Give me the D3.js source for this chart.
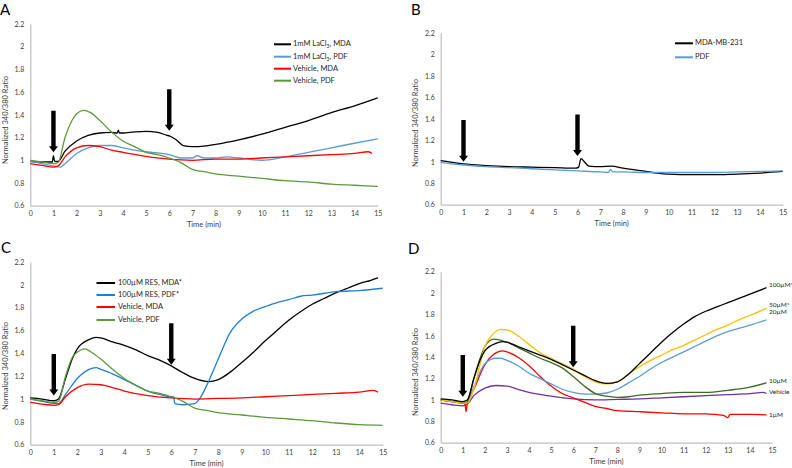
<!DOCTYPE html>
<html>
<head>
<meta charset="utf-8">
<script src="https://cdn.jsdelivr.net/npm/d3@7"></script>
<style>
  body { margin: 0; background: #fff; }
  svg { display: block; }
  text { font-family: Lato, "Open Sans", sans-serif; fill: #333; }
</style>
</head>
<body>
<div id="chart"></div>
<script>
// ---- shared ticks ----
const timeTicks = [0, 1, 2, 3, 4, 5, 6, 7, 8, 9, 10, 11, 12, 13, 14, 15];
const ratioTicks = [0.6, 0.8, 1, 1.2, 1.4, 1.6, 1.8, 2, 2.2];

// ---- panel A: LaCl3 ----
const aLaMDA = [[0,0.99],[0.5,0.985],[0.95,0.985],[1,1.04],[1.05,0.99],[1.2,0.99],[1.5,1.08],[2,1.17],[2.5,1.22],[3,1.24],[3.5,1.245],[3.75,1.24],[3.8,1.265],[3.85,1.24],[4,1.24],[4.5,1.25],[5,1.255],[5.5,1.245],[5.9,1.22],[6,1.215],[6.3,1.18],[6.6,1.13],[7,1.12],[7.5,1.125],[8,1.14],[9,1.18],[10,1.23],[11,1.29],[12,1.35],[13,1.42],[14,1.48],[15,1.55]];
const aLaPDF = [[0,0.99],[0.5,0.97],[1,0.95],[1.3,0.94],[1.5,0.97],[2,1.06],[2.5,1.11],[3,1.13],[3.5,1.13],[4,1.11],[4.5,1.09],[5,1.075],[5.5,1.065],[6,1.05],[6.5,1.02],[7,1.02],[7.2,1.04],[7.5,1.02],[8,1.02],[8.5,1.03],[9,1.02],[10,1.0],[11,1.03],[12,1.07],[13,1.11],[14,1.15],[15,1.19]];
const aVehMDA = [[0,0.97],[0.5,0.955],[1,0.94],[1.2,0.95],[1.5,1.03],[2,1.11],[2.5,1.13],[3,1.12],[3.5,1.09],[4,1.07],[5,1.035],[6,1.01],[7,1.0],[8,1.01],[9,1.01],[10,1.02],[11,1.03],[12,1.04],[13,1.05],[14,1.06],[14.6,1.075],[14.75,1.06]];
const aVehPDF = [[0,1.0],[0.5,0.985],[1,0.97],[1.2,0.98],[1.5,1.2],[1.8,1.35],[2,1.41],[2.3,1.44],[2.6,1.42],[3,1.35],[3.5,1.25],[4,1.17],[4.5,1.12],[5,1.07],[5.5,1.05],[6,1.02],[6.5,0.98],[7,0.92],[7.5,0.9],[8,0.88],[9,0.86],[10,0.84],[11,0.82],[12,0.81],[13,0.79],[14,0.78],[15,0.77]];

// ---- panel B: baseline ----
const bMDA = [[0,1.01],[1,0.98],[2,0.965],[3,0.955],[4,0.95],[5,0.945],[5.9,0.94],[6.05,0.95],[6.15,1.03],[6.3,1.0],[6.5,0.96],[7,0.955],[7.5,0.96],[8,0.94],[9,0.91],[9.5,0.895],[10,0.885],[11,0.88],[12,0.88],[13,0.885],[14,0.895],[15,0.91]];
const bPDF = [[0,0.995],[1,0.97],[2,0.955],[3,0.945],[4,0.935],[5,0.925],[6,0.915],[7,0.905],[7.35,0.9],[7.45,0.93],[7.55,0.905],[8,0.905],[9,0.9],[10,0.9],[11,0.9],[12,0.9],[13,0.905],[14,0.91],[15,0.915]];

// ---- panel C: 100µM RES ----
const cResMDA = [[0,1.01],[0.5,1.0],[1,0.985],[1.2,1.0],[1.5,1.18],[1.8,1.36],[2,1.44],[2.5,1.52],[2.8,1.54],[3,1.535],[3.5,1.5],[4,1.47],[4.5,1.43],[5,1.38],[5.5,1.34],[6,1.29],[6.5,1.23],[7,1.18],[7.6,1.152],[8,1.17],[8.6,1.25],[9,1.32],[9.5,1.41],[10,1.51],[10.5,1.6],[11,1.69],[11.5,1.765],[12,1.83],[12.5,1.88],[13,1.93],[13.5,1.97],[14,2.01],[14.5,2.04],[14.8,2.06]];
const cResPDF = [[0,1.0],[0.5,0.98],[1,0.96],[1.2,0.96],[1.5,1.04],[2,1.18],[2.5,1.26],[2.8,1.275],[3,1.26],[3.5,1.22],[4,1.17],[4.5,1.12],[5,1.07],[5.5,1.04],[6,1.02],[6.1,1.02],[6.15,0.96],[6.5,0.95],[7,0.96],[7.2,1.0],[7.6,1.16],[8,1.35],[8.5,1.58],[9,1.7],[9.5,1.77],[10,1.81],[10.5,1.845],[11,1.87],[11.5,1.9],[12,1.91],[13,1.94],[14,1.95],[15,1.97]];
const cVehMDA = [[0,0.97],[0.5,0.955],[1,0.945],[1.2,0.95],[1.5,1.02],[2,1.1],[2.5,1.13],[3,1.125],[3.5,1.1],[4,1.07],[5,1.03],[6,1.01],[7,1.0],[8,1.005],[9,1.01],[10,1.02],[11,1.03],[12,1.04],[13,1.05],[14,1.06],[14.6,1.075],[14.8,1.06]];
const cVehPDF = [[0,1.0],[0.5,0.985],[1,0.97],[1.2,0.98],[1.5,1.2],[1.8,1.37],[2,1.41],[2.3,1.44],[2.6,1.41],[3,1.35],[3.5,1.26],[4,1.18],[4.5,1.12],[5,1.07],[5.5,1.05],[6,1.02],[6.5,0.98],[7,0.92],[7.5,0.9],[8,0.88],[9,0.86],[10,0.84],[11,0.825],[12,0.81],[13,0.79],[14,0.775],[15,0.77]];

// ---- panel D: dose response ----
const d100 = [[0,1.01],[0.5,1.0],[1,0.985],[1.2,1.0],[1.5,1.2],[1.8,1.38],[2,1.46],[2.5,1.53],[2.8,1.545],[3,1.54],[3.5,1.5],[4,1.46],[4.5,1.42],[5,1.38],[5.5,1.33],[6,1.28],[6.5,1.23],[7,1.18],[7.5,1.155],[8,1.17],[8.5,1.24],[9,1.34],[9.5,1.44],[10,1.54],[10.5,1.63],[11,1.71],[11.5,1.78],[12,1.83],[12.5,1.87],[13,1.91],[13.5,1.95],[14,1.99],[14.75,2.05]];
const d50 = [[0,1.0],[0.5,0.985],[1,0.97],[1.2,0.97],[1.5,1.1],[1.8,1.35],[2,1.5],[2.3,1.6],[2.7,1.66],[3,1.655],[3.5,1.6],[4,1.52],[4.5,1.44],[5,1.39],[5.5,1.34],[6,1.29],[6.5,1.22],[7,1.17],[7.5,1.15],[8,1.17],[8.5,1.24],[9,1.31],[9.5,1.37],[10,1.42],[10.5,1.47],[11,1.51],[11.5,1.56],[12,1.61],[12.5,1.66],[13,1.7],[13.5,1.75],[14,1.79],[14.75,1.86]];
const d20 = [[0,1.0],[0.5,0.985],[1,0.97],[1.2,0.98],[1.5,1.12],[1.8,1.27],[2,1.34],[2.5,1.39],[2.7,1.39],[3,1.37],[3.5,1.32],[4,1.25],[4.5,1.2],[5,1.15],[5.5,1.1],[6,1.07],[6.5,1.055],[7,1.055],[7.5,1.065],[8,1.1],[8.5,1.16],[9,1.22],[9.5,1.29],[10,1.35],[10.5,1.4],[11,1.45],[11.5,1.5],[12,1.55],[12.5,1.6],[13,1.64],[13.5,1.67],[14,1.7],[14.75,1.75]];
const d10 = [[0,1.0],[0.5,0.985],[1,0.97],[1.2,0.98],[1.5,1.2],[1.8,1.4],[2,1.5],[2.4,1.57],[2.7,1.56],[3,1.54],[3.5,1.49],[4,1.44],[4.5,1.39],[5,1.35],[5.5,1.3],[6,1.22],[6.5,1.13],[7,1.06],[7.5,1.035],[8,1.025],[8.5,1.03],[9,1.045],[10,1.06],[11,1.07],[12,1.07],[13,1.09],[14,1.12],[14.75,1.16]];
const dVeh = [[0,0.97],[0.5,0.955],[1,0.945],[1.2,0.96],[1.5,1.04],[2,1.11],[2.5,1.135],[3,1.13],[3.5,1.1],[4,1.07],[5,1.035],[6,1.01],[7,1.0],[8,1.005],[9,1.01],[10,1.02],[11,1.03],[12,1.04],[13,1.05],[14,1.06],[14.6,1.07],[14.75,1.06]];
const d1 = [[0,1.0],[0.5,0.985],[1,0.97],[1.1,0.96],[1.15,0.89],[1.2,0.97],[1.5,1.1],[2,1.33],[2.5,1.44],[2.8,1.46],[3,1.45],[3.5,1.4],[4,1.32],[4.5,1.22],[5,1.13],[5.5,1.06],[6,1.02],[6.5,0.98],[7,0.94],[7.5,0.92],[8,0.9],[9,0.89],[10,0.88],[11,0.87],[12,0.87],[12.8,0.855],[13,0.835],[13.1,0.865],[14,0.865],[14.75,0.86]];

// arrows: [time, top value, tip value]
const aArrows = [[1, 1.437, 1.07], [6, 1.625, 1.26]];
const bArrows = [[1, 1.389, 1.0], [6, 1.44, 1.054]];
const cArrows = [[1, 1.394, 1.03], [6, 1.663, 1.3]];
const dArrows = [[1, 1.42, 1.03], [6, 1.695, 1.306]];

const panels = [
  { letter: "A", lx: 0, ly: 15, box: [30.3, 377.7, 24, 205.7], titleX: 6, titleY: 120, arrows: aArrows,
    series: [
      { data: aLaMDA, color: "#000000", label: ["1mM LaCl", "3", ", MDA"] },
      { data: aLaPDF, color: "#5b9bd5", label: ["1mM LaCl", "3", ", PDF"] },
      { data: aVehMDA, color: "#ff0000", label: ["Vehicle, MDA"] },
      { data: aVehPDF, color: "#5b9a3c", label: ["Vehicle, PDF"] }
    ],
    legend: { x1: 274, x2: 291, tx: 293, rows: [44.3, 56.7, 68.7, 80.7] } },
  { letter: "B", lx: 411, ly: 15, box: [440.7, 782.7, 33, 204.7], titleX: 416, titleY: 123, arrows: bArrows,
    series: [
      { data: bMDA, color: "#000000", label: ["MDA-MB-231"] },
      { data: bPDF, color: "#5b9bd5", label: ["PDF"] }
    ],
    legend: { x1: 675, x2: 693, tx: 695, rows: [43.3, 57.3] } },
  { letter: "C", lx: 1, ly: 253, box: [30.3, 382.7, 262, 444.7], titleX: 6, titleY: 366, arrows: cArrows,
    series: [
      { data: cResMDA, color: "#000000", label: ["100µM RES, MDA*"] },
      { data: cResPDF, color: "#1f7fd6", label: ["100µM RES, PDF*"] },
      { data: cVehMDA, color: "#ff0000", label: ["Vehicle, MDA"] },
      { data: cVehPDF, color: "#5b9a3c", label: ["Vehicle, PDF"] }
    ],
    legend: { x1: 96.5, x2: 115, tx: 118, rows: [283, 295, 307, 320] } },
  { letter: "D", lx: 408, ly: 254, box: [440.7, 772, 271.7, 442.7], titleX: 416, titleY: 372, arrows: dArrows,
    series: [
      { data: dVeh, color: "#7030a0", end: ["Vehicle", 1.072] },
      { data: d1, color: "#ff0000", end: ["1µM", 0.853] },
      { data: d20, color: "#5b9bd5", end: ["20µM", 1.816] },
      { data: d10, color: "#3f6b22", end: ["10µM", 1.175] },
      { data: d50, color: "#ffc000", end: ["50µM*", 1.888] },
      { data: d100, color: "#000000", end: ["100µM*", 2.07] }
    ] }
];

const svg = d3.select("#chart").append("svg")
  .attr("width", 792)
  .attr("height", 468);

panels.forEach(p => drawPanel(p));

function drawPanel(p) {
  const [left, right, top, bottom] = p.box;
  const x = d3.scaleLinear().domain([0, 15]).range([left, right]);
  const y = d3.scaleLinear().domain([0.6, 2.2]).range([bottom, top]);
  const g = svg.append("g");

  // panel letter
  g.append("text")
    .attr("x", p.lx).attr("y", p.ly)
    .attr("font-family", "Liberation Sans, Arial, sans-serif")
    .style("font-size", "15px").style("fill", "#000")
    .text(p.letter);

  // axes
  g.append("g")
    .attr("transform", `translate(0,${bottom})`)
    .call(d3.axisBottom(x).tickValues(timeTicks).tickSize(0).tickPadding(5).tickFormat(d3.format("d")));
  g.append("g")
    .attr("transform", `translate(${left},0)`)
    .call(d3.axisLeft(y).tickValues(ratioTicks).tickSize(0).tickPadding(6).tickFormat(d => String(+d.toFixed(1))));
  g.selectAll(".domain").attr("stroke", "#bfbfbf").attr("stroke-width", 1.2);
  g.selectAll(".tick text").style("font-size", "7px").style("fill", "#404040")
    .attr("font-family", null);

  // axis titles
  g.append("text")
    .attr("x", (left + right) / 2).attr("y", bottom + 19.5)
    .attr("text-anchor", "middle")
    .attr("dominant-baseline", "middle")
    .style("font-size", "7.5px").style("fill", "#404040")
    .text("Time (min)");
  g.append("text")
    .attr("transform", `translate(${p.titleX},${p.titleY}) rotate(-90)`)
    .attr("text-anchor", "middle")
    .attr("dominant-baseline", "middle")
    .style("font-size", "7.5px").style("fill", "#404040")
    .text("Normalized 340/380 Ratio");

  // series
  const line = d3.line()
    .x(d => x(d[0]))
    .y(d => y(d[1]))
    .curve(d3.curveMonotoneX);

  p.series.forEach(s => {
    g.append("path")
      .datum(s.data)
      .attr("fill", "none")
      .attr("stroke", s.color)
      .attr("stroke-width", 1.3)
      .attr("stroke-linejoin", "round")
      .attr("d", line);
  });

  // arrows
  p.arrows.forEach(a => {
    const cx = x(a[0]), y0 = y(a[1]), y1 = y(a[2]);
    const hw = 4.5, sw = 2.2, hh = 6;
    g.append("path")
      .attr("fill", "#000")
      .attr("d", `M${cx - sw},${y0} L${cx + sw},${y0} L${cx + sw},${y1 - hh} L${cx + hw},${y1 - hh} L${cx},${y1} L${cx - hw},${y1 - hh} L${cx - sw},${y1 - hh} Z`);
  });

  // legend
  if (p.legend) {
    p.series.forEach((s, i) => {
      const ry = p.legend.rows[i];
      g.append("line")
        .attr("x1", p.legend.x1).attr("x2", p.legend.x2)
        .attr("y1", ry).attr("y2", ry)
        .attr("stroke", s.color).attr("stroke-width", 2);
      const t = g.append("text")
        .attr("x", p.legend.tx).attr("y", ry)
        .attr("dominant-baseline", "middle")
        .style("font-size", "7.5px").style("fill", "#262626");
      t.append("tspan").text(s.label[0]);
      if (s.label.length > 1) {
        t.append("tspan").attr("baseline-shift", "sub").style("font-size", "5px").text(s.label[1]);
        t.append("tspan").text(s.label[2]);
      }
    });
  }

  // end labels (panel D)
  p.series.filter(s => s.end).forEach(s => {
    g.append("text")
      .attr("x", x(14.86)).attr("y", y(s.end[1]))
      .attr("dominant-baseline", "middle")
      .style("font-size", "6.5px").style("fill", "#262626")
      .text(s.end[0]);
  });
}
</script>
</body>
</html>
